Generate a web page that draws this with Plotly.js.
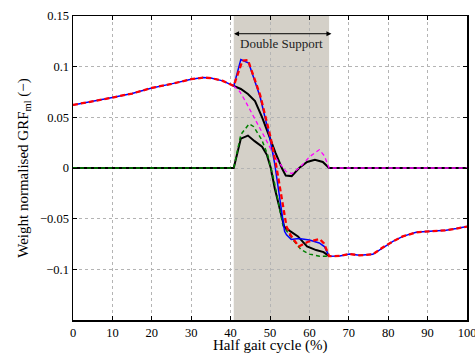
<!DOCTYPE html>
<html>
<head>
<meta charset="utf-8">
<script src="https://cdn.plot.ly/plotly-3.0.1.min.js"></script>
<style>html,body{margin:0;padding:0;background:#fff;}#chart{width:475px;height:354px;}</style>
</head>
<body>
<div id="chart"></div>
<script>
// Shared single-support segments (blue / red)
const preX  = [0, 5, 10, 15, 20, 25, 30, 33, 35, 38, 40.8];
const preY  = [0.0622, 0.0655, 0.0695, 0.0735, 0.0790, 0.0830, 0.0876, 0.0892, 0.0888, 0.0860, 0.0810];
const postX = [65, 67.7, 70.2, 72.7, 76.1, 78.6, 81.2, 83.7, 87.1, 90.5, 94.7, 97.3, 100];
const postY = [-0.0870, -0.0868, -0.0848, -0.0862, -0.0852, -0.0785, -0.0724, -0.0675, -0.0635, -0.0625, -0.0615, -0.0598, -0.0578];

// Double support segments
const blueDSX = [42.6, 44.6, 47.5, 49.9, 51.2, 52.6, 53.7, 54.2, 55.4, 57.3, 60.0, 62.5, 63.8];
const blueDSY = [0.1070, 0.1035, 0.0700, 0.0310, 0.0040, -0.0310, -0.0625, -0.0660, -0.0705, -0.0695, -0.0710, -0.0740, -0.0775];
const redDSX  = [43.0, 44.4, 47.5, 50.1, 51.6, 53.0, 54.2, 55.2, 57.3, 59.5, 62.6, 63.7];
const redDSY  = [0.1060, 0.1065, 0.0720, 0.0310, 0.0020, -0.0310, -0.0580, -0.0660, -0.0775, -0.0730, -0.0700, -0.0745];

const blackUpX = [40.8, 42.6, 44.4, 46.2, 48.0, 49.8, 51.4, 53.0, 54.0, 55.5, 57.4, 59.4, 61.4, 63.4, 65, 100];
const blackUpY = [0.0810, 0.0780, 0.0730, 0.0660, 0.0500, 0.0310, 0.0150, 0.0000, -0.0075, -0.0080, 0.0000, 0.0060, 0.0082, 0.0060, 0, 0];
const blackLoX = [0, 40.8, 42.6, 44.4, 46.1, 48.0, 49.2, 50.2, 51.2, 53.6, 55.0, 57.1, 59.4, 61.7, 63.6, 65];
const blackLoY = [0, 0, 0.0290, 0.0320, 0.0265, 0.0210, 0.0130, 0.0000, -0.0200, -0.0580, -0.0620, -0.0675, -0.0775, -0.0810, -0.0830, -0.0870];
const greenX = [0, 40.8, 42.6, 44.7, 45.8, 47.9, 49.4, 50.2, 51.0, 53.3, 55.8, 57.9, 60.0, 62.6, 65];
const greenY = [0, 0, 0.0330, 0.0435, 0.0410, 0.0280, 0.0130, 0.0000, -0.0120, -0.0570, -0.0707, -0.0806, -0.0850, -0.0870, -0.0870];
const magentaX = [40.8, 42.3, 43.6, 45.3, 47.0, 48.7, 50.3, 52.0, 54.1, 55.6, 57.7, 60.0, 62.5, 63.8, 65, 100];
const magentaY = [0.0810, 0.0756, 0.0670, 0.0550, 0.0420, 0.0300, 0.0180, 0.0065, -0.0035, -0.0055, 0.0010, 0.0110, 0.0180, 0.0120, 0, 0];

const xTicks = [0, 10, 20, 30, 40, 50, 60, 70, 80, 90, 100];
const yTicks = [-0.1, -0.05, 0, 0.05, 0.1, 0.15];
const yTickText = ['\u22120.1', '\u22120.05', '0', '0.05', '0.1', '0.15'];
const dsStart = 40.8, dsEnd = 65;
const dsLabel = 'Double Support';
const xTitle = 'Half gait cycle (%)';

const blueX = preX.concat(blueDSX, postX), blueY = preY.concat(blueDSY, postY);
const redX = preX.concat(redDSX, postX), redY = preY.concat(redDSY, postY);

const font = 'Liberation Serif, Times New Roman, serif';
const traces = [
  {x: blackUpX, y: blackUpY, mode: 'lines', line: {color: '#000000', width: 2}},
  {x: blackLoX, y: blackLoY, mode: 'lines', line: {color: '#000000', width: 2}},
  {x: greenX, y: greenY, mode: 'lines', line: {color: '#008000', width: 1.5, dash: '4px,3px'}},
  {x: magentaX, y: magentaY, mode: 'lines', line: {color: '#ff00ff', width: 1.3, dash: '4px,3px'}},
  {x: blueX, y: blueY, mode: 'lines', line: {color: '#0000ff', width: 1.5}},
  {x: redX, y: redY, mode: 'lines', line: {color: '#ff0000', width: 2.3, dash: '5px,3px'}}
];

const axisCommon = {
  showline: true, linecolor: '#000', linewidth: 1.5, mirror: 'ticks',
  ticks: 'inside', ticklen: 4, tickcolor: '#000', tickwidth: 1,
  showgrid: true, gridcolor: '#b4b4b4', griddash: 'dot', gridwidth: 1,
  zeroline: false, ticklabeloverflow: 'allow',
  tickfont: {family: font, size: 12.5, color: '#000'}
};

const layout = {
  width: 475, height: 354,
  margin: {l: 73, r: 8, t: 16, b: 34},
  paper_bgcolor: '#fff', plot_bgcolor: '#fff',
  showlegend: false,
  font: {family: font, color: '#000'},
  xaxis: Object.assign({}, axisCommon, {
    range: [0, 100], tickvals: xTicks, ticktext: xTicks.map(String)
  }),
  yaxis: Object.assign({}, axisCommon, {
    range: [-0.15, 0.15], tickvals: yTicks, ticktext: yTickText,
    title: {text: 'Weight normalised GRF<sub>ml</sub> (\u2212)', font: {family: font, size: 15}, standoff: 8}
  }),
  shapes: [{type: 'rect', xref: 'x', yref: 'paper', x0: dsStart, x1: dsEnd, y0: 0, y1: 1,
            fillcolor: '#d4d0c8', line: {width: 0}, layer: 'below'}],
  annotations: [
    {x: 65.6, y: 0.1325, ax: 40.5, ay: 0.1325, xref: 'x', yref: 'y', axref: 'x', ayref: 'y',
     text: '', showarrow: true, arrowhead: 2, startarrowhead: 2, arrowside: 'end+start',
     arrowsize: 1, arrowwidth: 1, arrowcolor: '#000'},
    {x: 52.9, y: 0.123, xref: 'x', yref: 'y', text: dsLabel, showarrow: false,
     font: {family: font, size: 13, color: '#222'}},
    {x: 0.5, y: 0, xref: 'paper', yref: 'paper', yanchor: 'middle', yshift: -25,
     text: xTitle, showarrow: false, borderpad: 0, font: {family: font, size: 15, color: '#000'}}
  ]
};

Plotly.newPlot('chart', traces, layout, {staticPlot: true, displayModeBar: false});
</script>
</body>
</html>
